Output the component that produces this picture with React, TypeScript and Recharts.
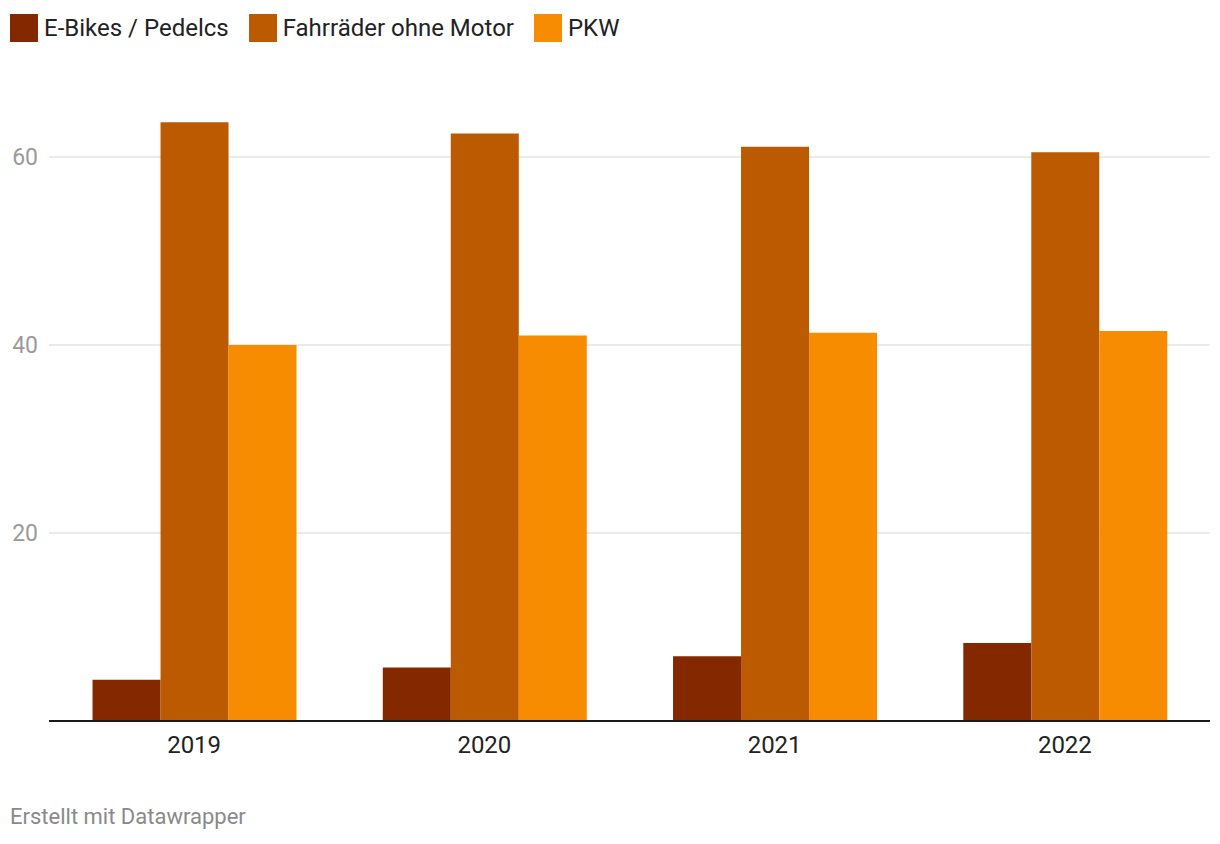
import { BarChart, Bar, XAxis, YAxis, CartesianGrid } from "recharts";

const years = ["2019", "2020", "2021", "2022"];
const eBikes = [4.4, 5.7, 6.9, 8.3];
const fahrraeder = [63.7, 62.5, 61.1, 60.5];
const pkw = [40.0, 41.0, 41.3, 41.5];
const yTicks = [20, 40, 60];

const series = [
  { key: "eBikes", name: "E-Bikes / Pedelcs", color: "#842800" },
  { key: "fahrraeder", name: "Fahrräder ohne Motor", color: "#bb5a00" },
  { key: "pkw", name: "PKW", color: "#f88c00" },
];

const data = years.map((year, i) => ({
  year,
  eBikes: eBikes[i],
  fahrraeder: fahrraeder[i],
  pkw: pkw[i],
}));

const font = "Roboto, sans-serif";

export default function App() {
  return (
    <div style={{ position: "relative", width: 1204, height: 828, fontFamily: font }}>
      <div
        style={{
          position: "absolute",
          top: 6,
          left: 2,
          display: "flex",
          alignItems: "center",
          fontSize: 24,
          color: "#222",
          height: 28,
          whiteSpace: "nowrap",
        }}
      >
        {series.map((s) => (
          <div key={s.key} style={{ display: "flex", alignItems: "center", marginRight: 20 }}>
            <span style={{ width: 28, height: 28, background: s.color, marginRight: 6 }} />
            <span>{s.name}</span>
          </div>
        ))}
      </div>

      <div style={{ position: "absolute", top: 0, left: 0 }}>
        <BarChart
          width={1202}
          height={780}
          data={data}
          margin={{ top: 55, right: 0, bottom: 27, left: 0 }}
          barCategoryGap="15%"
          barGap={0}
        >
          <CartesianGrid
            vertical={false}
            horizontalValues={yTicks}
            stroke="#e3e3e3"
            strokeWidth={1.5}
          />
          <XAxis
            dataKey="year"
            tickLine={false}
            axisLine={{ stroke: "#1a1a1a", strokeWidth: 2 }}
            tick={{ fill: "#222", fontSize: 24, fontFamily: font }}
            tickSize={0}
            tickMargin={15}
            height={40}
          />
          <YAxis
            domain={[0, 70]}
            ticks={yTicks}
            width={41}
            axisLine={false}
            tickLine={false}
            tickSize={0}
            tickMargin={11}
            tick={{ fill: "#9a9a9a", fontSize: 23, fontFamily: font }}
          />
          {series.map((s) => (
            <Bar key={s.key} dataKey={s.key} name={s.name} fill={s.color} isAnimationActive={false} />
          ))}
        </BarChart>
      </div>

      <div
        style={{
          position: "absolute",
          top: 796,
          left: 2,
          fontSize: 22,
          color: "#8a8a8a",
        }}
      >
        Erstellt mit Datawrapper
      </div>
    </div>
  );
}
